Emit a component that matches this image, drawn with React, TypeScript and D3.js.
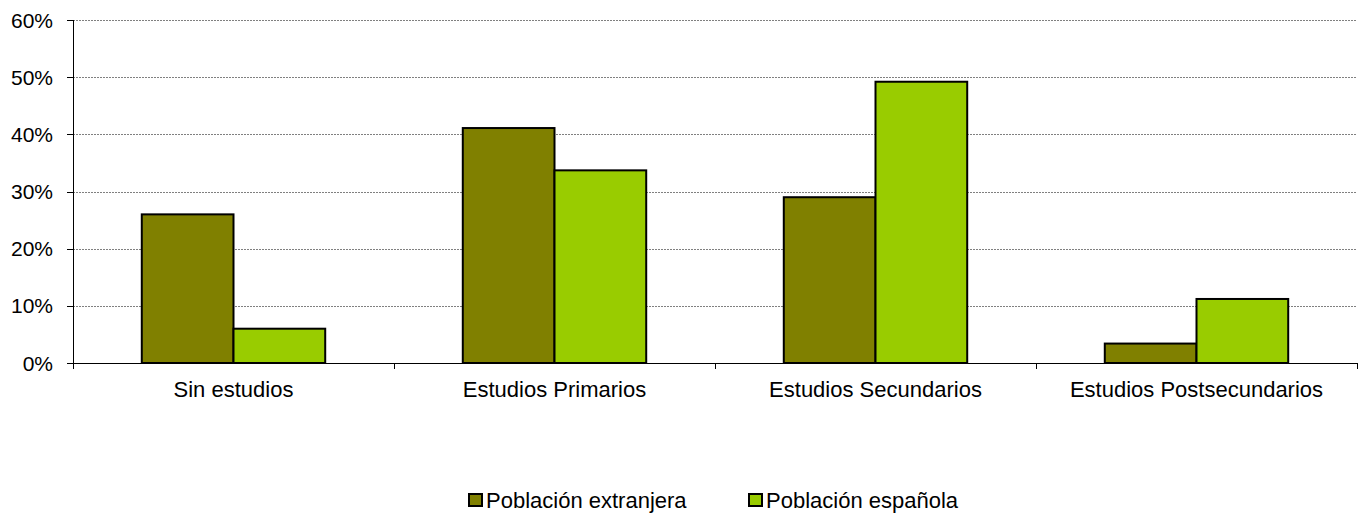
import { useEffect, useRef } from 'react';
import * as d3 from 'd3';

const categories = ["Sin estudios", "Estudios Primarios", "Estudios Secundarios", "Estudios Postsecundarios"];
const seriesNames = ["Población extranjera", "Población española"];
const extranjera = [26, 41.1, 29, 3.4];
const espanola = [6, 33.7, 49.2, 11.2];
const yTicks = [0, 10, 20, 30, 40, 50, 60];
const colors = ["#808000", "#99cc00"];

export default function App() {
  const svgRef = useRef<SVGSVGElement>(null);

  useEffect(() => {
    if (!svgRef.current) return;
    const left = 73, right = 1357, top = 20, bottom = 363;
    const font = "Liberation Sans, Arial, sans-serif";

    const svg = d3.select(svgRef.current);
    svg.selectAll("*").remove();

    const x = d3.scaleBand<string>().domain(categories).range([left, right]).paddingInner(0).paddingOuter(0);
    const x1 = d3.scaleBand<string>().domain(seriesNames).range([0, x.bandwidth()]).paddingInner(0).paddingOuter(0.75);
    const y = d3.scaleLinear().domain([0, 60]).range([bottom, top]);

    // Grid lines
    svg.append("g")
      .selectAll("line")
      .data(yTicks.filter(t => t > 0))
      .enter()
      .append("line")
      .attr("x1", left)
      .attr("x2", right)
      .attr("y1", d => Math.round(y(d)) + 0.5)
      .attr("y2", d => Math.round(y(d)) + 0.5)
      .attr("stroke", "#808080")
      .attr("stroke-width", 1)
      .attr("stroke-dasharray", "2,1");

    // Y ticks and labels
    const yg = svg.append("g");
    yg.selectAll("line")
      .data(yTicks)
      .enter()
      .append("line")
      .attr("x1", left - 6)
      .attr("x2", left)
      .attr("y1", d => Math.round(y(d)) + 0.5)
      .attr("y2", d => Math.round(y(d)) + 0.5)
      .attr("stroke", "#000");
    yg.selectAll("text")
      .data(yTicks)
      .enter()
      .append("text")
      .attr("x", 53)
      .attr("y", d => y(d) + 7.5)
      .attr("text-anchor", "end")
      .attr("font-family", font)
      .attr("font-size", "21px")
      .attr("fill", "#000")
      .text(d => `${d}%`);

    // Bars
    const data = categories.map((c, i) => ({ c, vals: [extranjera[i], espanola[i]] }));
    const groups = svg.append("g")
      .selectAll("g")
      .data(data)
      .enter()
      .append("g")
      .attr("transform", d => `translate(${x(d.c)},0)`);
    groups.selectAll("rect")
      .data(d => d.vals.map((v, j) => ({ v, s: seriesNames[j], j })))
      .enter()
      .append("rect")
      .attr("x", d => x1(d.s)!)
      .attr("y", d => y(d.v))
      .attr("width", x1.bandwidth())
      .attr("height", d => bottom - y(d.v))
      .attr("fill", d => colors[d.j])
      .attr("stroke", "#000")
      .attr("stroke-width", 2);

    // Axes lines
    svg.append("line")
      .attr("x1", left + 0.5).attr("x2", left + 0.5)
      .attr("y1", top).attr("y2", bottom)
      .attr("stroke", "#000");
    svg.append("line")
      .attr("x1", left).attr("x2", right)
      .attr("y1", bottom + 0.5).attr("y2", bottom + 0.5)
      .attr("stroke", "#000");

    // X ticks (category boundaries)
    const bounds = categories.map(c => x(c)!).concat([right]);
    svg.append("g")
      .selectAll("line")
      .data(bounds)
      .enter()
      .append("line")
      .attr("x1", d => Math.round(d) + 0.5)
      .attr("x2", d => Math.round(d) + 0.5)
      .attr("y1", bottom)
      .attr("y2", bottom + 6)
      .attr("stroke", "#000");

    svg.append("g")
      .selectAll("text")
      .data(categories)
      .enter()
      .append("text")
      .attr("x", d => x(d)! + x.bandwidth() / 2)
      .attr("y", 397)
      .attr("text-anchor", "middle")
      .attr("font-family", font)
      .attr("font-size", "22px")
      .attr("fill", "#000")
      .text(d => d);

    // Legend
    const legendX = [469, 749];
    const legend = svg.append("g")
      .selectAll("g")
      .data(seriesNames)
      .enter()
      .append("g")
      .attr("transform", (d, i) => `translate(${legendX[i]},500)`);
    legend.append("rect")
      .attr("x", 0)
      .attr("y", -6)
      .attr("width", 13)
      .attr("height", 12)
      .attr("fill", (d, i) => colors[i])
      .attr("stroke", "#000")
      .attr("stroke-width", 2);
    legend.append("text")
      .attr("x", 17)
      .attr("y", 7.5)
      .attr("font-family", font)
      .attr("font-size", "22px")
      .attr("fill", "#000")
      .text(d => d);
  }, []);

  return (
    <svg ref={svgRef} width={1360} height={513} viewBox="0 0 1360 513"
      style={{ position: 'absolute', left: 0, top: 0, background: '#fff' }}></svg>
  );
}
